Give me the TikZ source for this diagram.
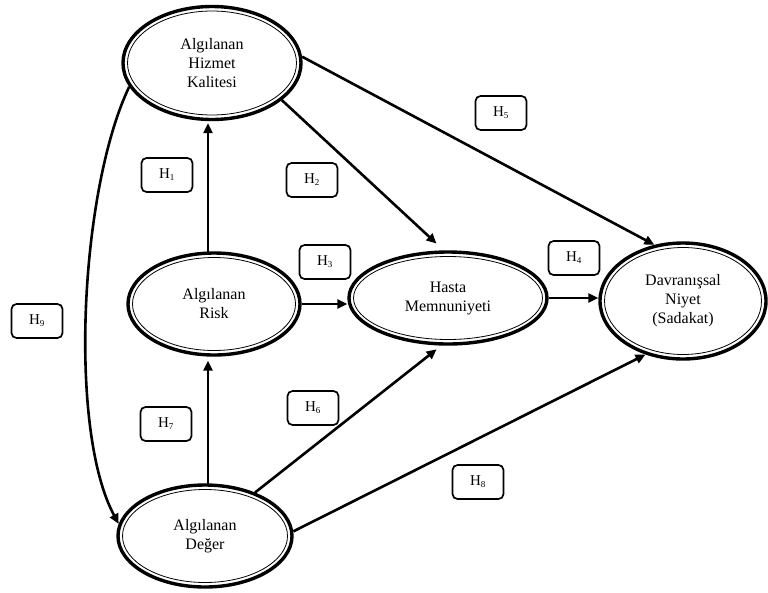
\documentclass[tikz,border=0pt]{standalone}
\usepackage{fontspec}
\setmainfont{Liberation Serif}
\usetikzlibrary{arrows.meta,calc,shapes.geometric}
\tikzset{
  construct/.style={ellipse, draw, line width=3.4pt, inner sep=0pt, align=center,
    font=\fontsize{16}{19}\selectfont},
  hyp/.style={draw, line width=1.7pt, rounded corners=5pt, minimum width=51pt,
    minimum height=34pt, inner sep=0pt, font=\fontsize{15}{17}\selectfont},
  link/.style={line width=2.6pt, -{Triangle[length=10pt,width=9pt]}},
  innerline/.style={line width=0.8pt}
}
\newcommand{\hsub}[1]{H\textsubscript{\fontsize{9}{9}\selectfont #1}}
\begin{document}
\begin{tikzpicture}[x=1pt,y=-1pt]
\useasboundingbox (0,0) rectangle (768,592);
% constructs
\node[construct, minimum width=178pt, minimum height=113pt] (hiz) at (212,63) {Algılanan\\Hizmet\\Kalitesi};
\node[construct, minimum width=172pt, minimum height=102pt] (risk) at (214,304) {Algılanan\\Risk};
\node[construct, minimum width=198pt, minimum height=92pt] (has) at (448,298) {Hasta\\Memnuniyeti};
\node[construct, minimum width=166pt, minimum height=116pt] (dav) at (683,301) {Davranışsal\\Niyet\\(Sadakat)};
\node[construct, minimum width=174pt, minimum height=102pt] (deg) at (205,536) {Algılanan\\Değer};
% inner thin lines
\draw[innerline] (hiz.center) ellipse (84.5 and 52);
\draw[innerline] (risk.center) ellipse (81.5 and 46.5);
\draw[innerline] (has.center) ellipse (94.5 and 41.5);
\draw[innerline] (dav.center) ellipse (78.5 and 53.5);
\draw[innerline] (deg.center) ellipse (82.5 and 46.5);
% hypothesis labels
\node[hyp] (h1) at (167,175) {\hsub{1}};
\node[hyp] (h2) at (312,180) {\hsub{2}};
\node[hyp] (h3) at (325,262) {\hsub{3}};
\node[hyp] (h4) at (574,258) {\hsub{4}};
\node[hyp] (h5) at (501,113) {\hsub{5}};
\node[hyp] (h6) at (313,408) {\hsub{6}};
\node[hyp] (h7) at (166,424) {\hsub{7}};
\node[hyp] (h8) at (478,482) {\hsub{8}};
\node[hyp] (h9) at (37,321) {\hsub{9}};
% connectors
\coordinate (rtop) at (208,254);
\draw[link, shorten >=2pt] (rtop) -- (rtop |- hiz.south);
\coordinate (dtop) at (208,485);
\draw[link, shorten >=4pt] (dtop) -- (dtop |- risk.south);
\draw[link] (risk.east) -- (risk.east -| has.west);
\draw[link] (has.east) -- (has.east -| dav.west);
\draw[link, shorten >=10pt] (hiz.-28) -- (has.95);
\draw[link] (hiz.4) -- (dav.117);
\draw[link, shorten >=6pt] (deg.41) -- (has.262);
\draw[link] (deg.3) -- (dav.235);
\draw[link] (hiz.196) .. controls (80,190) and (68,430) .. (deg.172);
\end{tikzpicture}
\end{document}
